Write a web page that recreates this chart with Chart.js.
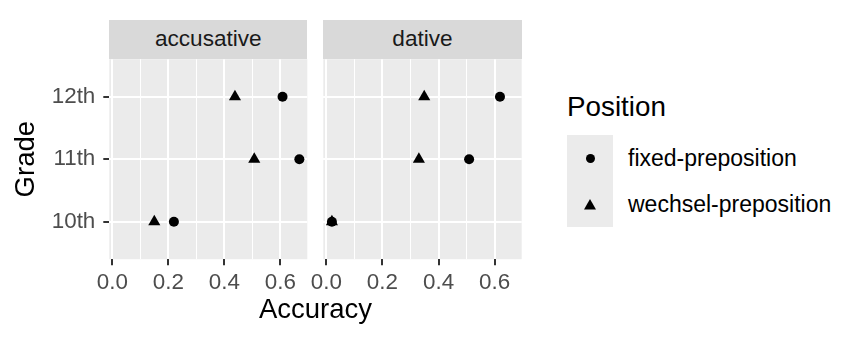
<!DOCTYPE html>
<html><head><meta charset="utf-8">
<script src="https://cdn.jsdelivr.net/npm/chart.js@4.4.0/dist/chart.umd.min.js"></script>
<style>
body{margin:0;background:#fff;width:864px;height:345px;overflow:hidden;position:relative;font-family:"Liberation Sans",Arial,sans-serif;}
canvas{position:absolute;}
.abs{position:absolute;white-space:nowrap;}
.strip{position:absolute;background:#D9D9D9;color:#1A1A1A;font-size:22.6px;text-align:center;}
</style></head><body>
<canvas id="cA" width="316" height="345" style="left:0;top:0"></canvas>
<canvas id="cB" width="242" height="345" style="left:290px;top:0"></canvas>
<div class="strip" id="sA" style="left:109.3px;top:20px;width:198px;height:39.2px;line-height:38.2px"></div>
<div class="strip" id="sB" style="left:323.3px;top:20px;width:198.4px;height:39.2px;line-height:38.2px"></div>
<div class="abs" id="xTitle" style="left:109.3px;width:412.4px;top:295px;font-size:27.5px;line-height:27.5px;text-align:center;color:#000"></div>
<div class="abs" id="legTitle" style="left:567px;top:93.4px;font-size:27.8px;line-height:27.8px;color:#000"></div>
<div class="abs" style="left:566.7px;top:135px;width:46px;height:92px;background:#EBEBEB"></div>
<div class="abs" style="left:585.5px;top:154px;width:9px;height:9px;border-radius:50%;background:#000"></div>
<div class="abs" style="left:584px;top:199px;width:12px;height:10.5px;background:#000;clip-path:polygon(50% 0,100% 100%,0 100%)"></div>
<div class="abs" id="leg1" style="left:628px;top:146.6px;font-size:23px;line-height:23px;color:#000"></div>
<div class="abs" id="leg2" style="left:628px;top:192.8px;font-size:23px;line-height:23px;color:#000"></div>
<script>
// ---- data ----
const grades = ["10th", "11th", "12th"];
const facets = ["accusative", "dative"];
const positions = ["fixed-preposition", "wechsel-preposition"];
const accusativeFixed   = [0.220, 0.668, 0.608];
const accusativeWechsel = [0.150, 0.507, 0.438];
const dativeFixed       = [0.020, 0.509, 0.619];
const dativeWechsel     = [0.020, 0.330, 0.349];
const xTickValues = [0, 0.1, 0.2, 0.3, 0.4, 0.5, 0.6];
const xMajorTicks = [0, 0.2, 0.4, 0.6];
const xTitle = "Accuracy";
const yTitle = "Grade";
const legendTitle = "Position";

document.getElementById('sA').textContent = facets[0];
document.getElementById('sB').textContent = facets[1];
document.getElementById('xTitle').textContent = xTitle;
document.getElementById('legTitle').textContent = legendTitle;
document.getElementById('leg1').textContent = positions[0];
document.getElementById('leg2').textContent = positions[1];

const FONT = "'Liberation Sans', Arial, sans-serif";
const X_MIN = -0.0107, X_MAX = 0.6964;
const Y_MIN = 0.4, Y_MAX = 3.6;
const isMajor = v => xMajorTicks.some(m => Math.abs(m - v) < 1e-9);

const panelBg = {
  id: 'panelBg',
  beforeDraw(chart) {
    const {ctx, chartArea: a} = chart;
    ctx.save();
    ctx.fillStyle = '#EBEBEB';
    ctx.fillRect(a.left, a.top, a.right - a.left, a.bottom - a.top);
    ctx.restore();
  }
};

function series(vals, style, label, order) {
  return {
    label: label,
    data: vals.map((v, i) => ({x: v, y: i + 1})),
    pointStyle: style,
    pointRadius: style === 'triangle' ? 7 : 5,
    pointBackgroundColor: '#000',
    pointBorderWidth: 0,
    borderWidth: 0,
    order: order
  };
}

function makeChart(id, fixedVals, wechselVals, first, yWidth, padRight) {
  return new Chart(document.getElementById(id), {
    type: 'scatter',
    data: {datasets: [
      series(fixedVals, 'circle', positions[0], 2),
      series(wechselVals, 'triangle', positions[1], 1)
    ]},
    plugins: [panelBg],
    options: {
      responsive: false, animation: false, events: [],
      layout: {padding: {left: 0, right: padRight, top: 59.2, bottom: 0}},
      plugins: {legend: {display: false}, tooltip: {enabled: false}},
      scales: {
        x: {
          type: 'linear', min: X_MIN, max: X_MAX,
          afterBuildTicks: s => { s.ticks = xTickValues.map(v => ({value: v})); },
          afterFit: s => { s.height = 85.8; },
          border: {display: false},
          grid: {
            color: '#FFFFFF',
            lineWidth: c => (c.tick && isMajor(c.tick.value)) ? 2 : 1,
            tickColor: c => (c.tick && isMajor(c.tick.value)) ? '#333333' : 'rgba(0,0,0,0)',
            tickLength: 6, tickWidth: 2
          },
          ticks: {
            autoSkip: false, maxRotation: 0, minRotation: 0, padding: 4,
            color: '#4D4D4D', font: {size: 22.4, family: FONT},
            callback: v => isMajor(v) ? v.toFixed(1) : ''
          }
        },
        y: {
          type: 'linear', min: Y_MIN, max: Y_MAX,
          afterBuildTicks: s => { s.ticks = grades.map((g, i) => ({value: i + 1})); },
          afterFit: s => { s.width = yWidth; },
          border: {display: false},
          grid: {color: '#FFFFFF', lineWidth: 2, tickColor: '#333333', tickLength: 6, tickWidth: 2, drawTicks: first},
          ticks: {
            display: first, padding: 8, color: '#4D4D4D', font: {size: 22.4, family: FONT},
            callback: v => grades[Math.round(v) - 1]
          },
          title: {display: first, text: yTitle, color: '#000', font: {size: 27.5, family: FONT}, padding: {top: 10, bottom: 0}}
        }
      }
    }
  });
}

makeChart('cA', accusativeFixed, accusativeWechsel, true, 109.3, 316 - 307.3);
makeChart('cB', dativeFixed, dativeWechsel, false, 33.3, 242 - 231.7);
</script>
</body></html>
